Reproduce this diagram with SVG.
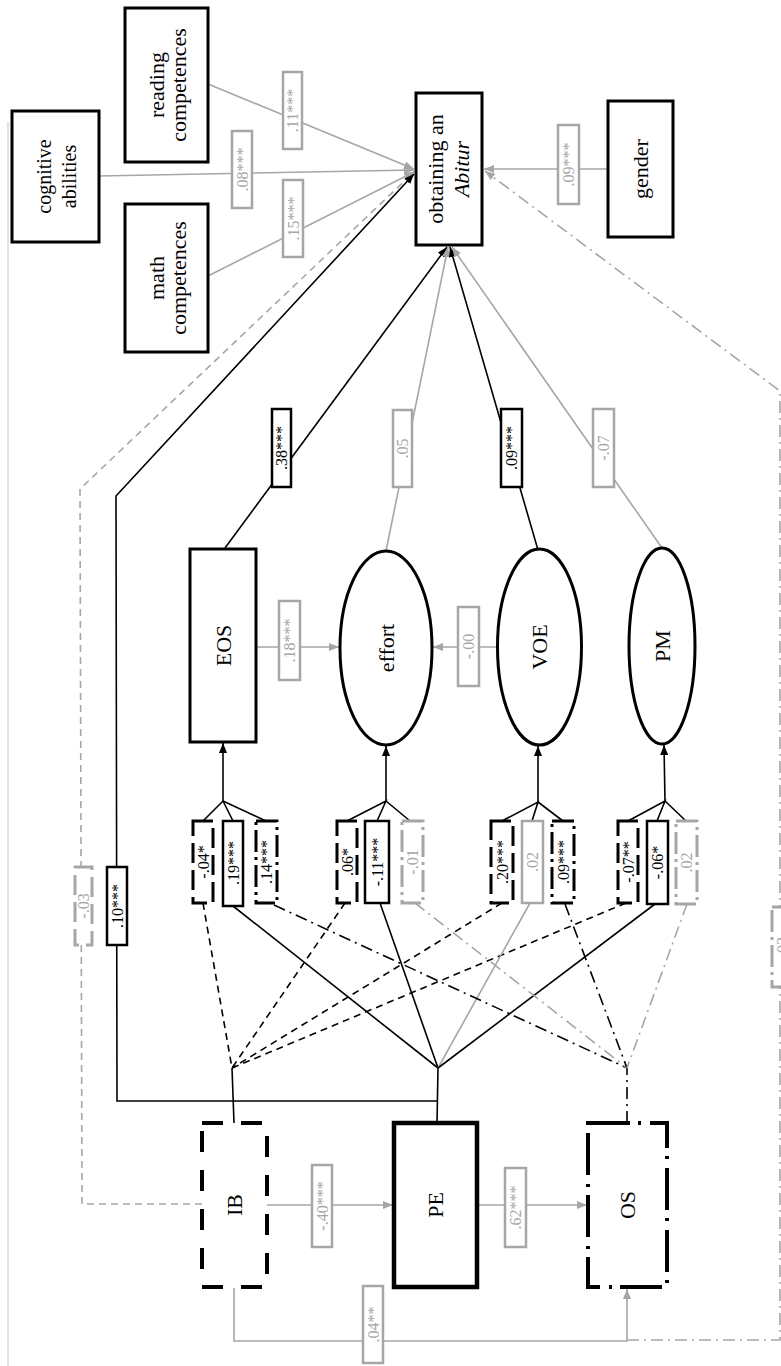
<svg xmlns="http://www.w3.org/2000/svg" width="781" height="1366" viewBox="0 0 781 1366">
<style>
.nd{fill:#fff;stroke:#000;stroke-width:3}
.nt{font-family:"Liberation Serif","Times New Roman",serif;font-size:22px;text-anchor:middle;fill:#000}
.lt{font-family:"Liberation Serif","Times New Roman",serif;font-size:16px;text-anchor:middle}
.lk rect{fill:#fff;stroke:#000;stroke-width:2.5}
.lk text{fill:#000}
.lg rect{fill:#fff;stroke:#a6a6a6;stroke-width:2.5}
.lg text{fill:#a6a6a6}
.ld rect{stroke-dasharray:20 7;stroke-width:3}
.ldd rect{stroke-dasharray:22 5 3 5;stroke-width:3}
.ck{fill:none;stroke:#000;stroke-width:1.6}
.cg{fill:none;stroke:#a6a6a6;stroke-width:1.6}
.da{stroke-dasharray:7 5}
.dd{stroke-dasharray:12 5 2 5}
</style>
<defs>
<marker id="ak" viewBox="0 0 10 8" refX="10" refY="4" markerWidth="10" markerHeight="8" markerUnits="userSpaceOnUse" orient="auto"><path d="M0,0 L10,4 L0,8 z" fill="#000"/></marker>
<marker id="ag" viewBox="0 0 10 8" refX="10" refY="4" markerWidth="10" markerHeight="8" markerUnits="userSpaceOnUse" orient="auto"><path d="M0,0 L10,4 L0,8 z" fill="#a6a6a6"/></marker>
</defs>
<rect width="781" height="1366" fill="#fff"/>
<line x1="8" y1="122" x2="8" y2="1366" stroke="#c8c8c8" stroke-width="1"/>

<g id="connectors">
<!-- predictors to Abitur -->
<path class="cg" d="M208,84 L414,169" marker-end="url(#ag)"/>
<path class="cg" d="M99,176 L414,170" marker-end="url(#ag)"/>
<path class="cg" d="M208,276 L414,172" marker-end="url(#ag)"/>
<path class="cg" d="M608,169 L484,169" marker-end="url(#ag)"/>
<!-- direct effects of IB, PE, OS on Abitur -->
<path class="cg da" d="M202,1204 L82,1204 L80,489 L414,172" marker-end="url(#ag)"/>
<path class="ck" d="M437,1101 L117,1101 L116,496 L414,174" marker-end="url(#ak)"/>
<path class="cg dd" d="M627,1340 L780,1340 L780,391 L485,171" marker-end="url(#ag)"/>
<!-- mediators to Abitur -->
<path class="ck" d="M225,548 L447,247" marker-end="url(#ak)"/>
<path class="cg" d="M386,551 L448,247" marker-end="url(#ag)"/>
<path class="ck" d="M538,550 L450,247" marker-end="url(#ak)"/>
<path class="cg" d="M662,548 L452,247" marker-end="url(#ag)"/>
<!-- mediators to effort -->
<path class="cg" d="M256,647 L339,647" marker-end="url(#ag)"/>
<path class="cg" d="M497,647 L433,647" marker-end="url(#ag)"/>
<!-- IB, PE, OS among each other -->
<path class="cg" d="M267,1205 L393,1205" marker-end="url(#ag)"/>
<path class="cg" d="M477,1205 L587,1205" marker-end="url(#ag)"/>
<path class="cg" d="M234,1288 L234,1341 L627,1341 L627,1289" marker-end="url(#ag)"/>
<!-- stems -->
<path class="ck" d="M234,1123 L232,1068"/>
<path class="ck" d="M437,1123 L438,1068"/>
<path class="ck dd" d="M627,1123 L627,1068"/>
<!-- junction arrows to mediators -->
<path class="ck" d="M223,801 L223,743" marker-end="url(#ak)"/>
<path class="ck" d="M386,801 L386,746" marker-end="url(#ak)"/>
<path class="ck" d="M538,802 L538,746" marker-end="url(#ak)"/>
<path class="ck" d="M665,801 L664,745" marker-end="url(#ak)"/>
<!-- junction fans (top) -->
<path class="ck" d="M203,821 L223,801 L233,821 M223,801 L266,821"/>
<path class="ck" d="M347,821 L386,801 L377,821 M386,801 L410,821"/>
<path class="ck" d="M502,821 L538,802 L532,821 M538,802 L563,821"/>
<path class="ck" d="M628,821 L665,801 L657,821 M665,801 L686,821"/>
<!-- IB fan (dashed) -->
<path class="ck da" d="M203,903 L232,1068"/>
<path class="ck da" d="M345,903 L232,1068"/>
<path class="ck da" d="M502,903 L232,1068"/>
<path class="ck da" d="M626,903 L232,1068"/>
<!-- PE fan (solid) -->
<path class="ck" d="M233,906 L438,1068"/>
<path class="ck" d="M380,903 L438,1068"/>
<path class="cg" d="M530,903 L438,1068"/>
<path class="ck" d="M655,904 L438,1068"/>
<!-- OS fan (dash-dot) -->
<path class="ck dd" d="M274,905 L627,1068"/>
<path class="cg dd" d="M415,903 L627,1068"/>
<path class="ck dd" d="M565,904 L627,1068"/>
<path class="cg dd" d="M687,904 L627,1068"/>
</g>

<g id="labels">
<g class="lg"><rect x="283" y="72" width="19" height="77"/><text class="lt" transform="translate(292.5,110.5) rotate(-90)" y="5.5">.11***</text></g>
<g class="lg"><rect x="232" y="131" width="20" height="77"/><text class="lt" transform="translate(242,169.5) rotate(-90)" y="5.5">.08***</text></g>
<g class="lg"><rect x="283" y="180" width="20" height="77"/><text class="lt" transform="translate(293,218.5) rotate(-90)" y="5.5">.15***</text></g>
<g class="lg"><rect x="558" y="125" width="21" height="79"/><text class="lt" transform="translate(568.5,164.5) rotate(-90)" y="5.5">.09***</text></g>
<g class="lk"><rect x="272" y="409" width="19" height="78"/><text class="lt" transform="translate(281.5,448) rotate(-90)" y="5.5">.38***</text></g>
<g class="lg"><rect x="393" y="410" width="19" height="77"/><text class="lt" transform="translate(402.5,448.5) rotate(-90)" y="5.5">.05</text></g>
<g class="lk"><rect x="501" y="409" width="21" height="78"/><text class="lt" transform="translate(511.5,448) rotate(-90)" y="5.5">.09***</text></g>
<g class="lg"><rect x="593" y="409" width="21" height="78"/><text class="lt" transform="translate(603.5,448) rotate(-90)" y="5.5">-.07</text></g>
<g class="lg"><rect x="279" y="601" width="21" height="79"/><text class="lt" transform="translate(289.5,640.5) rotate(-90)" y="5.5">.18***</text></g>
<g class="lg"><rect x="458" y="607" width="21" height="79"/><text class="lt" transform="translate(468.5,646.5) rotate(-90)" y="5.5">-.00</text></g>
<!-- EOS group -->
<g class="lk ld"><rect x="193" y="821" width="20" height="82"/><text class="lt" transform="translate(203,862) rotate(-90)" y="5.5">-.04*</text></g>
<g class="lk"><rect x="223" y="821" width="20" height="85"/><text class="lt" transform="translate(233,863) rotate(-90)" y="5.5">.19***</text></g>
<g class="lk ldd"><rect x="256" y="821" width="21" height="82"/><text class="lt" transform="translate(266.5,862) rotate(-90)" y="5.5">.14***</text></g>
<!-- effort group -->
<g class="lk ld"><rect x="337" y="821" width="20" height="82"/><text class="lt" transform="translate(347,862) rotate(-90)" y="5.5">.06*</text></g>
<g class="lk"><rect x="365" y="821" width="24" height="82"/><text class="lt" transform="translate(377,862) rotate(-90)" y="5.5">-.11***</text></g>
<g class="lg ldd"><rect x="402" y="821" width="21" height="82"/><text class="lt" transform="translate(412.5,862) rotate(-90)" y="5.5">-.01</text></g>
<!-- VOE group -->
<g class="lk ld"><rect x="491" y="821" width="22" height="82"/><text class="lt" transform="translate(502,862) rotate(-90)" y="5.5">.20***</text></g>
<g class="lg"><rect x="522" y="821" width="21" height="82"/><text class="lt" transform="translate(532.5,862) rotate(-90)" y="5.5">.02</text></g>
<g class="lk ldd"><rect x="552" y="821" width="22" height="82"/><text class="lt" transform="translate(563,862) rotate(-90)" y="5.5">.09***</text></g>
<!-- PM group -->
<g class="lk ld"><rect x="618" y="821" width="20" height="82"/><text class="lt" transform="translate(628,862) rotate(-90)" y="5.5">-.07**</text></g>
<g class="lk"><rect x="647" y="821" width="21" height="83"/><text class="lt" transform="translate(657.5,862.5) rotate(-90)" y="5.5">-.06*</text></g>
<g class="lg ldd"><rect x="676" y="821" width="21" height="83"/><text class="lt" transform="translate(686.5,862.5) rotate(-90)" y="5.5">.02</text></g>
<!-- direct paths -->
<g class="lg ld"><rect x="75" y="867" width="17" height="78"/><text class="lt" transform="translate(83.5,906) rotate(-90)" y="5.5">-.03</text></g>
<g class="lk"><rect x="107" y="867" width="20" height="78"/><text class="lt" transform="translate(117,906) rotate(-90)" y="5.5">.10***</text></g>
<g class="lg ldd"><rect x="772" y="907" width="20" height="80"/><text class="lt" transform="translate(782,947) rotate(-90)" y="5.5">.03</text></g>
<g class="lg"><rect x="312" y="1165" width="20" height="82"/><text class="lt" transform="translate(322,1206) rotate(-90)" y="5.5">-.40***</text></g>
<g class="lg"><rect x="505" y="1168" width="21" height="79"/><text class="lt" transform="translate(515.5,1207.5) rotate(-90)" y="5.5">.62***</text></g>
<g class="lg"><rect x="363" y="1286" width="20" height="77"/><text class="lt" transform="translate(373,1324.5) rotate(-90)" y="5.5">.04**</text></g>
</g>

<g id="reading">
<rect class="nd" x="125" y="8" width="83" height="154"/>
<text class="nt" transform="translate(166.5,85) rotate(-90)"><tspan x="0" y="-3">reading</tspan><tspan x="0" y="19">competences</tspan></text>
</g>
<g id="cognitive">
<rect class="nd" x="12" y="111" width="87" height="131"/>
<text class="nt" style="font-size:20px" transform="translate(55.5,176.5) rotate(-90)"><tspan x="0" y="-5">cognitive</tspan><tspan x="0" y="20">abilities</tspan></text>
</g>
<g id="math">
<rect class="nd" x="125" y="204" width="83" height="148"/>
<text class="nt" transform="translate(166.5,278) rotate(-90)"><tspan x="0" y="-3">math</tspan><tspan x="0" y="19">competences</tspan></text>
</g>
<g id="abitur">
<rect class="nd" x="416" y="93" width="66" height="152"/>
<text class="nt" transform="translate(449,169) rotate(-90)"><tspan x="0" y="-6">obtaining an</tspan><tspan x="0" y="20" font-style="italic">Abitur</tspan></text>
</g>
<g id="gender">
<rect class="nd" x="608" y="101" width="65" height="136"/>
<text class="nt" transform="translate(640.5,169) rotate(-90)" y="7.5">gender</text>
</g>
<g id="EOS">
<rect class="nd" x="190" y="549" width="66" height="193"/>
<text class="nt" transform="translate(223,645.5) rotate(-90)" y="7.5">EOS</text>
</g>
<g id="effort">
<ellipse class="nd" cx="386" cy="648" rx="46" ry="97"/>
<text class="nt" transform="translate(386,648) rotate(-90)" y="7.5">effort</text>
</g>
<g id="VOE">
<ellipse class="nd" cx="539.5" cy="647" rx="42" ry="98"/>
<text class="nt" transform="translate(539.5,647) rotate(-90)" y="7.5">VOE</text>
</g>
<g id="PM">
<ellipse class="nd" cx="662" cy="646" rx="33" ry="98"/>
<text class="nt" transform="translate(662,646) rotate(-90)" y="7.5">PM</text>
</g>
<g id="IB">
<rect class="nd" x="202" y="1123" width="65" height="164" style="stroke-width:4;stroke-dasharray:21 18"/>
<text class="nt" transform="translate(234.5,1205) rotate(-90)" y="7.5">IB</text>
</g>
<g id="PE">
<rect class="nd" x="394" y="1123" width="83" height="164" style="stroke-width:4.5"/>
<text class="nt" transform="translate(435.5,1205) rotate(-90)" y="7.5">PE</text>
</g>
<g id="OS">
<rect class="nd" x="588" y="1123" width="79" height="164" style="stroke-width:4;stroke-dasharray:42 8 3 9"/>
<text class="nt" transform="translate(627.5,1205) rotate(-90)" y="7.5">OS</text>
</g>
</svg>
